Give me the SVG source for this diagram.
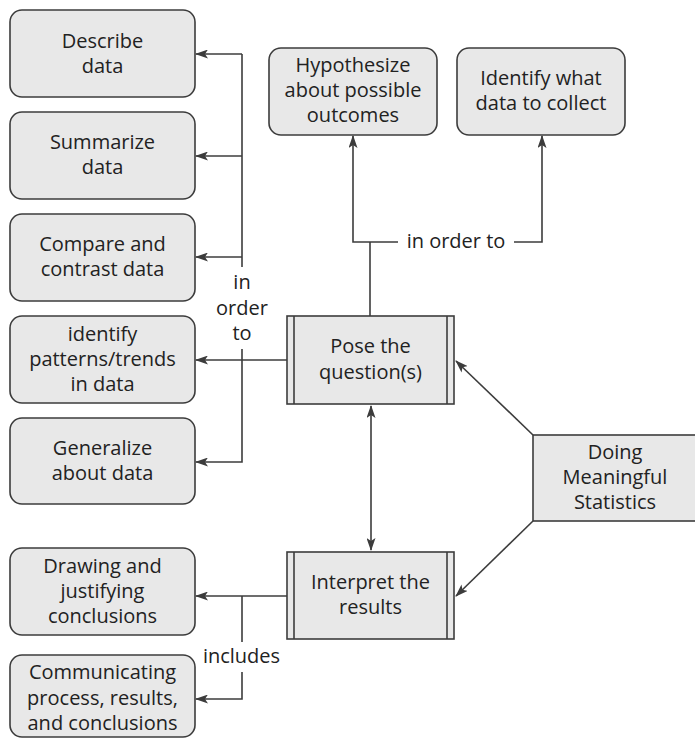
<svg xmlns="http://www.w3.org/2000/svg" width="695" height="740" viewBox="0 0 695 740">
<defs>
<style>
.box{fill:#e8e8e8;stroke:#3c3c3c;stroke-width:1.6}
.t{font-family:"Open Sans","Noto Sans","Liberation Sans",sans-serif;font-size:20px;fill:#222;text-anchor:middle}
.ln{fill:none;stroke:#3c3c3c;stroke-width:1.6}
</style>
<marker id="ah" markerWidth="13" markerHeight="9" refX="12" refY="4.5" orient="auto-start-reverse" markerUnits="userSpaceOnUse">
<path d="M0,0 L13,4.5 L0,9 L3,4.5 Z" fill="#3c3c3c"/>
</marker>
</defs>
<rect width="695" height="740" fill="#fff"/>

<g id="describe"><rect class="box" x="10" y="10" width="185" height="87" rx="12"/>
<text class="t" x="102.5" y="48">Describe</text><text class="t" x="102.5" y="73">data</text></g>
<g id="summarize"><rect class="box" x="10" y="112" width="185" height="87" rx="12"/>
<text class="t" x="102.5" y="149">Summarize</text><text class="t" x="102.5" y="174">data</text></g>
<g id="compare"><rect class="box" x="10" y="214" width="185" height="87" rx="12"/>
<text class="t" x="102.5" y="251">Compare and</text><text class="t" x="102.5" y="276">contrast data</text></g>
<g id="patterns"><rect class="box" x="10" y="316" width="185" height="87" rx="12"/>
<text class="t" x="102.5" y="341">identify</text><text class="t" x="102.5" y="366">patterns/trends</text><text class="t" x="102.5" y="391">in data</text></g>
<g id="generalize"><rect class="box" x="10" y="418" width="185" height="86" rx="12"/>
<text class="t" x="102.5" y="455">Generalize</text><text class="t" x="102.5" y="480">about data</text></g>
<g id="drawing"><rect class="box" x="10" y="548" width="185" height="87" rx="12"/>
<text class="t" x="102.5" y="573">Drawing and</text><text class="t" x="102.5" y="598">justifying</text><text class="t" x="102.5" y="623">conclusions</text></g>
<g id="communicating"><rect class="box" x="10" y="655" width="185" height="82" rx="12"/>
<text class="t" x="102.5" y="679">Communicating</text><text class="t" x="102.5" y="705">process, results,</text><text class="t" x="102.5" y="730">and conclusions</text></g>

<g id="hypothesize"><rect class="box" x="269" y="48" width="168" height="87" rx="12"/>
<text class="t" x="353" y="72">Hypothesize</text><text class="t" x="353" y="97">about possible</text><text class="t" x="353" y="122">outcomes</text></g>
<g id="identify"><rect class="box" x="457" y="48" width="168" height="87" rx="12"/>
<text class="t" x="541" y="85">Identify what</text><text class="t" x="541" y="110">data to collect</text></g>

<g id="pose"><rect class="box" x="287" y="316" width="167" height="88"/>
<line class="ln" x1="294" y1="316" x2="294" y2="404"/><line class="ln" x1="447" y1="316" x2="447" y2="404"/>
<text class="t" x="370.5" y="353">Pose the</text><text class="t" x="370.5" y="379">question(s)</text></g>
<g id="interpret"><rect class="box" x="287" y="552" width="167" height="87"/>
<line class="ln" x1="294" y1="552" x2="294" y2="639"/><line class="ln" x1="447" y1="552" x2="447" y2="639"/>
<text class="t" x="370.5" y="589">Interpret the</text><text class="t" x="370.5" y="614">results</text></g>
<g id="doing"><rect class="box" x="533" y="435" width="165" height="86"/>
<text class="t" x="615" y="459">Doing</text><text class="t" x="615" y="484">Meaningful</text><text class="t" x="615" y="509">Statistics</text></g>

<g id="connectors">
<path class="ln" d="M242,54 V267"/>
<path class="ln" d="M242,54 H196" marker-end="url(#ah)"/>
<path class="ln" d="M242,156 H196" marker-end="url(#ah)"/>
<path class="ln" d="M242,257 H196" marker-end="url(#ah)"/>
<path class="ln" d="M287,360 H196" marker-end="url(#ah)"/>
<path class="ln" d="M242,349 V462 H196" marker-end="url(#ah)"/>
<text class="t" x="242" y="289">in</text><text class="t" x="242" y="315">order</text><text class="t" x="242" y="340">to</text>

<path class="ln" d="M370,316 V242"/>
<path class="ln" d="M398,242 H353 V136" marker-end="url(#ah)"/>
<path class="ln" d="M514,242 H542 V136" marker-end="url(#ah)"/>
<text class="t" x="456" y="248">in order to</text>

<path class="ln" d="M371,406 V550" marker-start="url(#ah)" marker-end="url(#ah)"/>
<path class="ln" d="M533,435 L456,361" marker-end="url(#ah)"/>
<path class="ln" d="M533,521 L456,596" marker-end="url(#ah)"/>

<path class="ln" d="M287,596 H196" marker-end="url(#ah)"/>
<path class="ln" d="M242,596 V642"/>
<path class="ln" d="M242,672 V699 H196" marker-end="url(#ah)"/>
<text class="t" x="241.5" y="663">includes</text>
</g>
</svg>
